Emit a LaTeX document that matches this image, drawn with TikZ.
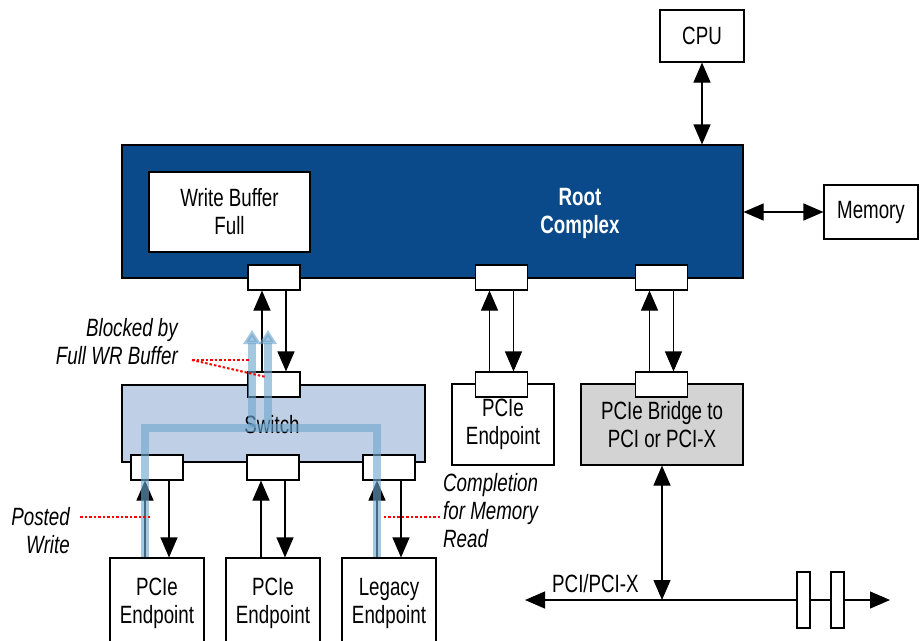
\documentclass[tikz,border=0pt]{standalone}
\usepackage{fontspec}
\setmainfont{Liberation Sans}[FakeStretch=0.75]
\usetikzlibrary{arrows.meta,positioning}
\definecolor{rcblue}{RGB}{10,74,138}
\definecolor{swblue}{RGB}{191,208,230}
\definecolor{brgray}{RGB}{211,211,211}
\definecolor{flowblue}{RGB}{110,165,205}

\begin{document}
\begin{tikzpicture}[x=1pt, y=-1pt,
        every node/.style={font=\fontsize{25}{28}\selectfont, align=center, inner sep=0pt},
        box/.style={draw, fill=white, line width=1.1pt},
        port/.style={box, minimum width=52pt, minimum height=25pt},
        note/.style={font=\fontsize{25}{28}\selectfont\itshape},
        arr/.style={-{Triangle[length=20pt,width=17pt]}, line width=1.1pt},
        biarr/.style={{Triangle[length=20pt,width=17pt]}-{Triangle[length=20pt,width=17pt]}, line width=1.1pt},
        flow/.style={flowblue, opacity=0.62, line width=7.5pt},
        hint/.style={red, line width=2pt, dash pattern=on 2.5pt off 2pt}
      ]
      \useasboundingbox (0,0) rectangle (920,640);

      \node[box, minimum width=84pt, minimum height=52pt] (cpu) at (702,36) {CPU};
      \node[box, fill=rcblue, minimum width=621pt, minimum height=133pt] (rc) at (432.5,211.5) {};
      \node[font=\fontsize{25}{28}\selectfont\bfseries, text=white] (rclbl) at (580,213) {Root\\Complex};
      \node[box, minimum width=161pt, minimum height=80pt] (wbf) at (229.5,212) {Write Buffer\\Full};
      \node[box, minimum width=94pt, minimum height=54pt] (mem) at (871,212) {Memory};
      \node[port] (rp1) at (274,277.5) {};
      \node[port] (rp2) at (501.5,277.5) {};
      \node[port] (rp3) at (661.5,277.5) {};

      \node[box, fill=swblue, minimum width=303pt, minimum height=77pt] (sw) at (273.5,423.5) {};
      \node (swlbl) at (272,425) {Switch};
      \node[port] (sp0) at (274,384.5) {};
      \node[port] (sp1) at (157,467.5) {};
      \node[port] (sp2) at (273,467.5) {};
      \node[port] (sp3) at (389,467.5) {};

      \node[box, minimum width=102pt, minimum height=81pt] (ep4) at (503,424.5) {PCIe\\Endpoint};
      \node[box, fill=brgray, minimum width=162pt, minimum height=81pt] (br) at (662,424.5) {PCIe Bridge to\\PCI or PCI-X};
      \node[port] (ep4p) at (501.5,384.5) {};
      \node[port] (brp) at (661.5,384.5) {};

      \node[box, minimum width=94pt, minimum height=90pt] (ep1) at (157,603) {PCIe\\Endpoint};
      \node[box, minimum width=94pt, minimum height=90pt] (ep2) at (273,603) {PCIe\\Endpoint};
      \node[box, minimum width=94pt, minimum height=90pt] (ep3) at (389,603) {Legacy\\Endpoint};

      \draw[biarr] (cpu.south) -- (cpu.south |- rc.north);
      \draw[biarr] (rc.east |- mem.west) -- (mem.west);
      \foreach \lo/\up in {sp0/rp1, ep4p/rp2, brp/rp3, ep1/sp1, ep2/sp2, ep3/sp3} {
        \draw[arr] ([xshift=-12pt]\lo.north) -- ([xshift=-12pt]\up.south);
        \draw[arr] ([xshift=12pt]\up.south) -- ([xshift=12pt]\lo.north);
      }

      \coordinate (busL) at (525,600);
      \coordinate (busR) at (890,600);
      \draw[biarr] (busL) -- (busR);
      \draw[biarr] (br.south) -- (br.south |- busL);
      \node[box, minimum width=13pt, minimum height=56pt] (gap1) at (803.5,600) {};
      \node[box, minimum width=13pt, minimum height=56pt] (gap2) at (837.5,600) {};
      \node[anchor=base west] (buslbl) at (552,592) {PCI/PCI-X};

      \coordinate (fl) at (145,428);
      \coordinate (fr) at (377,428);
      \coordinate (fa) at (252,428);
      \coordinate (fb) at (268,428);
      \draw[flow] (ep1.north -| fl) -- (fl) -- (fr) -- (ep3.north -| fr);
      \draw[flow, -{Triangle[length=14pt,width=17pt]}] (fa) -- ++(0,-98);
      \draw[flow, -{Triangle[length=14pt,width=17pt]}] (fb) -- ++(0,-98);

      \node[note, anchor=east, align=right] (blk) at (178,342) {Blocked by\\Full WR Buffer};
      \node[note, anchor=east, align=right] (pw) at (70,531) {Posted\\Write};
      \node[note, anchor=west, align=left] (cmr) at (443,511) {Completion\\for Memory\\Read};
      \draw[hint] ([xshift=14pt]blk.east |- 0,360) -- ([xshift=-3pt]fa |- 0,360);
      \draw[hint] ([xshift=14pt]blk.east |- 0,360) -- ([xshift=-2pt]fb |- 0,377);
      \draw[hint] ([xshift=10pt]pw.east |- 0,517) -- ([xshift=-6pt]sp1.south |- 0,517);
      \draw[hint] ([xshift=-3pt]cmr.west |- 0,517) -- ([xshift=-6pt]sp3.south |- 0,517);
    \end{tikzpicture}
\end{document}
